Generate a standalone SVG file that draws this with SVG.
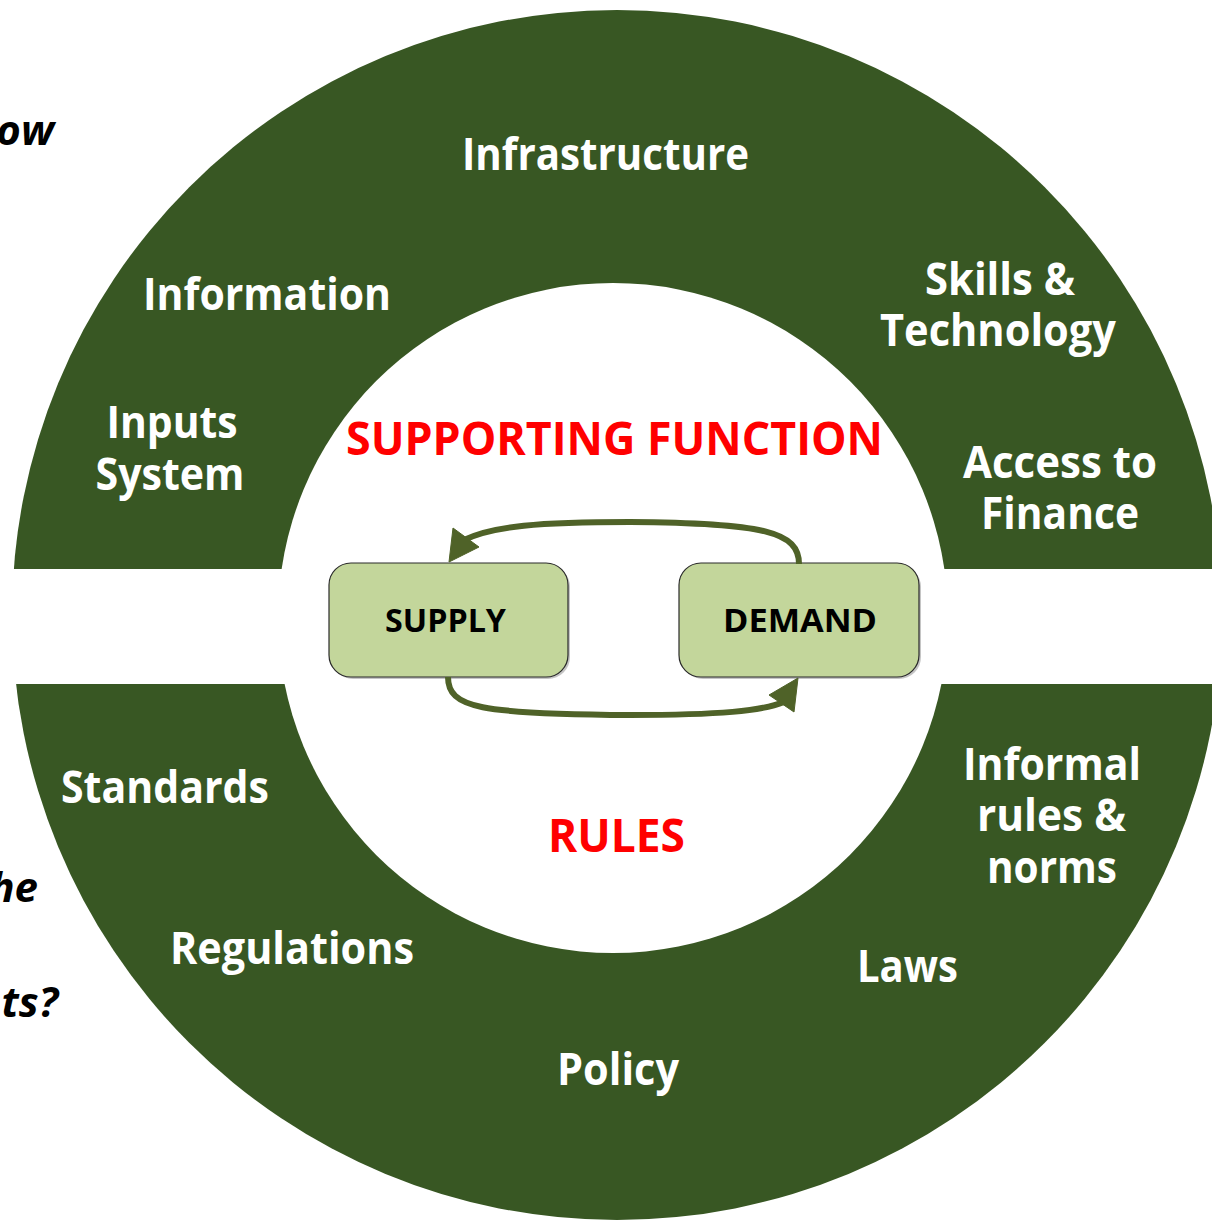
<svg xmlns="http://www.w3.org/2000/svg" width="1212" height="1222" viewBox="0 0 1212 1222">
<style>
.lbl{font-family:"Open Sans","Noto Sans","Liberation Sans",sans-serif;font-weight:bold;fill:#ffffff;font-size:45px;text-anchor:middle}
.red{font-family:"Open Sans","Noto Sans","Liberation Sans",sans-serif;font-weight:bold;fill:#ff0000;font-size:47px;text-anchor:middle}
.box{fill:#c3d69b;stroke:#2a2a2a;stroke-width:1.2}
.boxt{font-family:"Open Sans","Noto Sans","Liberation Sans",sans-serif;font-weight:bold;fill:#000000;font-size:33px;text-anchor:middle}
.side{font-family:"Open Sans","Noto Sans","Liberation Sans",sans-serif;font-weight:bold;font-style:italic;fill:#000000;font-size:42px;text-anchor:end}
.conn{fill:none;stroke:#4f6228;stroke-width:6;stroke-linecap:butt}
.head{fill:#4f6228;stroke:#4f6228;stroke-width:1;stroke-linejoin:round}
</style>
<rect width="1212" height="1222" fill="#ffffff"/>
<g id="ring">
<circle cx="617" cy="615" r="605" fill="#385723"/>
<circle cx="613" cy="618" r="335" fill="#ffffff"/>
<rect x="0" y="569" width="1212" height="115" fill="#ffffff"/>
</g>
<g id="side-text">
<text class="side" x="54" y="145">ow</text>
<text class="side" x="38" y="902">he</text>
<text class="side" x="58" y="1017">ts?</text>
</g>
<g id="supporting-labels">
<text class="lbl" x="605.5" y="170" textLength="287" lengthAdjust="spacingAndGlyphs">Infrastructure</text>
<text class="lbl" x="267" y="310" textLength="248" lengthAdjust="spacingAndGlyphs">Information</text>
<text class="lbl" x="1000" y="295" textLength="150" lengthAdjust="spacingAndGlyphs">Skills &amp;</text>
<text class="lbl" x="998" y="346" textLength="236" lengthAdjust="spacingAndGlyphs">Technology</text>
<text class="lbl" x="172" y="438" textLength="131" lengthAdjust="spacingAndGlyphs">Inputs</text>
<text class="lbl" x="170" y="490" textLength="149" lengthAdjust="spacingAndGlyphs">System</text>
<text class="lbl" x="1060" y="478" textLength="194" lengthAdjust="spacingAndGlyphs">Access to</text>
<text class="lbl" x="1060" y="529" textLength="158" lengthAdjust="spacingAndGlyphs">Finance</text>
</g>
<g id="rules-labels">
<text class="lbl" x="165" y="803" textLength="208" lengthAdjust="spacingAndGlyphs">Standards</text>
<text class="lbl" x="1052" y="780" textLength="178" lengthAdjust="spacingAndGlyphs">Informal</text>
<text class="lbl" x="1051.5" y="831" textLength="149" lengthAdjust="spacingAndGlyphs">rules &amp;</text>
<text class="lbl" x="1052" y="883" textLength="130" lengthAdjust="spacingAndGlyphs">norms</text>
<text class="lbl" x="292" y="964" textLength="244" lengthAdjust="spacingAndGlyphs">Regulations</text>
<text class="lbl" x="907.5" y="982" textLength="101" lengthAdjust="spacingAndGlyphs">Laws</text>
<text class="lbl" x="618" y="1085" textLength="122" lengthAdjust="spacingAndGlyphs">Policy</text>
</g>
<g id="titles">
<text class="red" x="614.5" y="455" textLength="537" lengthAdjust="spacingAndGlyphs">SUPPORTING FUNCTION</text>
<text class="red" x="616.5" y="852" textLength="137" lengthAdjust="spacingAndGlyphs">RULES</text>
</g>
<g id="supply">
<rect x="331" y="565" width="239" height="114" rx="22" fill="#7f7f7f" opacity="0.45"/>
<rect class="box" x="329" y="563" width="239" height="114" rx="22"/>
<text class="boxt" x="445.5" y="632" textLength="121" lengthAdjust="spacingAndGlyphs">SUPPLY</text>
</g>
<g id="demand">
<rect x="681" y="565" width="240" height="114" rx="22" fill="#7f7f7f" opacity="0.45"/>
<rect class="box" x="679" y="563" width="240" height="114" rx="22"/>
<text class="boxt" x="800" y="632" textLength="154" lengthAdjust="spacingAndGlyphs">DEMAND</text>
</g>
<g id="connectors">
<path class="conn" d="M799,564 C799,532 765,523 630,522 C540,522 492,526 464,540"/>
<polygon class="head" points="453,528 479,547 449,562"/>
<path class="conn" d="M448,677 C448,708 480,714 630,715 C720,715 762,711 784,702"/>
<polygon class="head" points="769,695 794,712 798,678"/>
</g>
</svg>
